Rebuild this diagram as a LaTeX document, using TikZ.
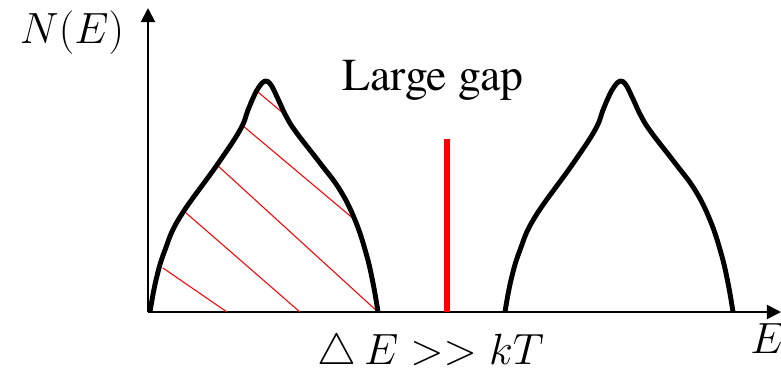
\documentclass[tikz,border=0pt]{standalone}
\usepackage{fontspec}
\setmainfont{texgyretermes-regular.otf}
\usepackage{tikz}
\usetikzlibrary{arrows.meta, positioning}

% one band of states, drawn in pixel units
\newcommand{\bandcurve}{plot[smooth, tension=0.7] coordinates {(150,312) (156,280) (165,250) (180,217) (217,165) (240,130) (248,110) (254,96) (259,87) (265,81) (271,85) (278,99) (286,116) (296,132) (320,163) (340,190) (355,220) (366,253) (373,283) (378,312)}}

\begin{document}
\begin{tikzpicture}[x=0.02cm, y=-0.02cm,
  axis/.style={line width=1.1pt, -{Triangle[length=8pt, width=8pt]}},
  band/.style={line width=2.8pt, line join=round},
  hatch/.style={red, line width=0.6pt},
  gapbar/.style={red, line width=3.4pt},
  lbl/.style={inner sep=0pt, font=\fontsize{26}{30}\selectfont}]
  \useasboundingbox (0,0) rectangle (781,372);
  % axes
  \coordinate (O) at (148,312);
  \coordinate (ytip) at (148,8);
  \coordinate (xtip) at (781,312);
  \draw[axis] (O) -- (ytip);
  \draw[axis] (O) -- (xtip);
  % hatching of the filled band
  \foreach \a/\b in {{163,268}/{227,312}, {185,212}/{300,312}, {217,165}/{378,312}, {242,125}/{355,220}, {258,92}/{283,113}}
    \draw[hatch] (\a) -- (\b);
  % the two bands
  \draw[band] \bandcurve;
  \draw[band, shift={(355,0)}] \bandcurve;
  % gap marker
  \coordinate (gtop) at (447,139);
  \coordinate (gbot) at (447,312);
  \draw[gapbar] (gtop) -- (gbot);
  % labels
  \node[lbl, anchor=base] (gap) at (433,90) {Large gap};
  \node[lbl, font=\fontsize{24}{28}\selectfont] (NE) at (72,33) {$N(E)$};
  \node[lbl, anchor=base west, font=\fontsize{24}{28}\selectfont] (E) at (750,353) {$E$};
  \node[lbl, anchor=base, font=\fontsize{24.5}{28}\selectfont] (dE) at (431,364) {$\triangle\, E >> kT$};
\end{tikzpicture}
\end{document}
